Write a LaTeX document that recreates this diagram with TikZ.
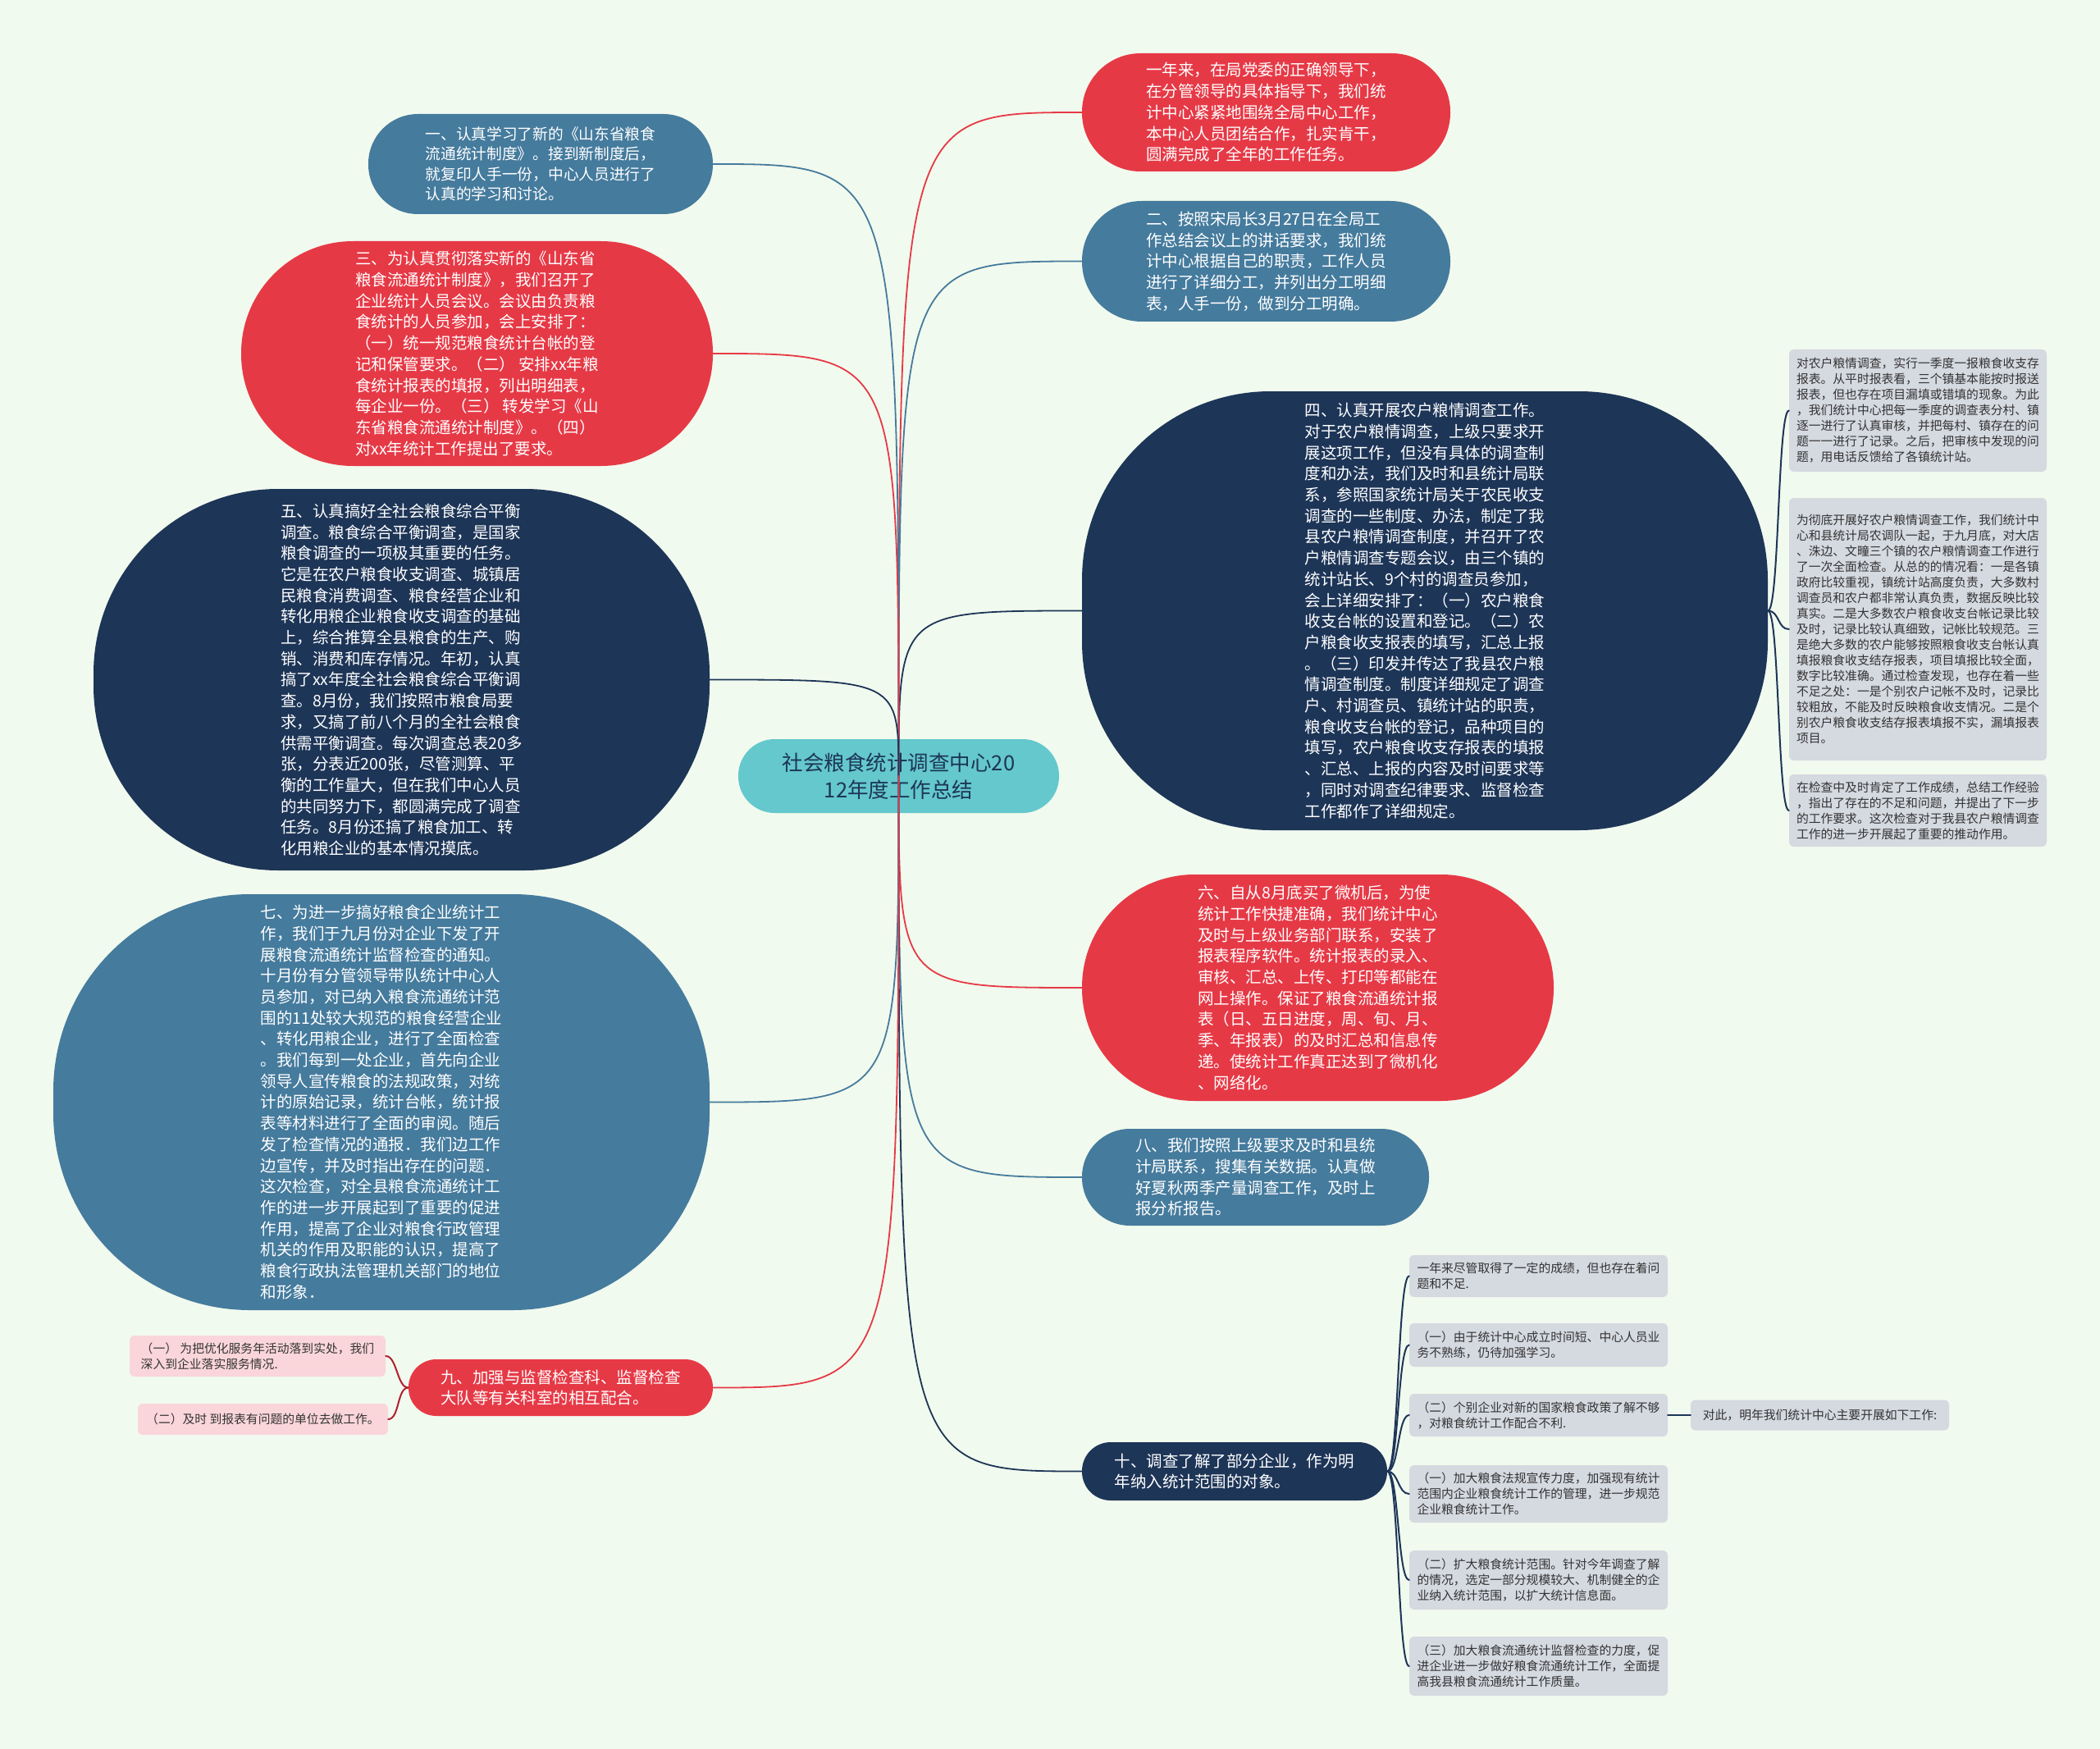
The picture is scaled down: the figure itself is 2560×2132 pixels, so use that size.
\documentclass[tikz,border=0pt]{standalone}
\usepackage{fontspec}
\setmainfont{Noto Sans CJK SC}
\usepackage{tikz}
\definecolor{bgc}{HTML}{F1FAEE}
\definecolor{redc}{HTML}{E63946}
\definecolor{bluec}{HTML}{457B9D}
\definecolor{navyc}{HTML}{1D3557}
\definecolor{rootc}{HTML}{64C8CD}
\definecolor{leafc}{HTML}{D5D9E0}
\definecolor{pinkc}{HTML}{FAD6DB}
\definecolor{leaftext}{HTML}{333333}
\definecolor{bracketred}{HTML}{B0202E}

\begin{document}
\begin{tikzpicture}[x=1pt,y=-1pt,line cap=round,
  topic/.style={rectangle,inner sep=0pt,text=white,align=left,font=\fontsize{19.5pt}{25.7pt}\selectfont},
  leaf/.style={rectangle,rounded corners=6pt,inner sep=0pt,fill=leafc,text=leaftext,align=left,font=\fontsize{14.8pt}{19pt}\selectfont},
  pinkleaf/.style={leaf,fill=pinkc},
  link/.style={line width=1.8pt},
  bracket/.style={line width=2pt}]
\useasboundingbox (0,0) rectangle (2560,2132);
\fill[bgc] (0,0) rectangle (2560,2132);

\node[rectangle,fill=rootc,text=navyc,align=center,minimum width=391pt,minimum height=90pt,rounded corners=44.5pt,font=\fontsize{25.5pt}{33pt}\selectfont] (root) at (1095.5,946) {社会粮食统计调查中心20\\12年度工作总结};

\node[topic,fill=redc,minimum width=449pt,minimum height=144pt,rounded corners=71.5pt] (n0) at (1543.5,137) {一年来，在局党委的正确领导下，\\在分管领导的具体指导下，我们统\\计中心紧紧地围绕全局中心工作，\\本中心人员团结合作，扎实肯干，\\圆满完成了全年的工作任务。};
\node[topic,fill=bluec,minimum width=449pt,minimum height=147pt,rounded corners=73pt] (n2) at (1543.5,318.5) {二、按照宋局长3月27日在全局工\\作总结会议上的讲话要求，我们统\\计中心根据自己的职责，工作人员\\进行了详细分工，并列出分工明细\\表，人手一份，做到分工明确。};
\node[topic,fill=navyc,minimum width=836pt,minimum height=535pt,rounded corners=230pt] (n4) at (1737,744.5) {四、认真开展农户粮情调查工作。\\对于农户粮情调查，上级只要求开\\展这项工作，但没有具体的调查制\\度和办法，我们及时和县统计局联\\系，参照国家统计局关于农民收支\\调查的一些制度、办法，制定了我\\县农户粮情调查制度，并召开了农\\户粮情调查专题会议，由三个镇的\\统计站长、9个村的调查员参加，\\会上详细安排了：（一）农户粮食\\收支台帐的设置和登记。（二）农\\户粮食收支报表的填写，汇总上报\\。（三）印发并传达了我县农户粮\\情调查制度。制度详细规定了调查\\户、村调查员、镇统计站的职责，\\粮食收支台帐的登记，品种项目的\\填写，农户粮食收支存报表的填报\\、汇总、上报的内容及时间要求等\\，同时对调查纪律要求、监督检查\\工作都作了详细规定。};
\node[topic,fill=redc,minimum width=575pt,minimum height=276pt,rounded corners=137.5pt] (n6) at (1606.5,1204) {六、自从8月底买了微机后，为使\\统计工作快捷准确，我们统计中心\\及时与上级业务部门联系，安装了\\报表程序软件。统计报表的录入、\\审核、汇总、上传、打印等都能在\\网上操作。保证了粮食流通统计报\\表（日、五日进度，周、旬、月、\\季、年报表）的及时汇总和信息传\\递。使统计工作真正达到了微机化\\、网络化。};
\node[topic,fill=bluec,minimum width=423pt,minimum height=118pt,rounded corners=58.5pt] (n8) at (1530.5,1435) {八、我们按照上级要求及时和县统\\计局联系，搜集有关数据。认真做\\好夏秋两季产量调查工作，及时上\\报分析报告。};
\node[topic,fill=navyc,minimum width=372pt,minimum height=71pt,rounded corners=35pt] (n10) at (1505,1793.5) {十、调查了解了部分企业，作为明\\年纳入统计范围的对象。};

\node[topic,fill=bluec,minimum width=420pt,minimum height=122pt,rounded corners=60.5pt,font=\fontsize{18.7pt}{24.4pt}\selectfont] (n1) at (659,200) {一、认真学习了新的《山东省粮食\\流通统计制度》。接到新制度后，\\就复印人手一份，中心人员进行了\\认真的学习和讨论。};
\node[topic,fill=redc,minimum width=575pt,minimum height=274pt,rounded corners=136.5pt] (n3) at (581.5,431) {三、为认真贯彻落实新的《山东省\\粮食流通统计制度》，我们召开了\\企业统计人员会议。会议由负责粮\\食统计的人员参加，会上安排了：\\（一）统一规范粮食统计台帐的登\\记和保管要求。（二） 安排xx年粮\\食统计报表的填报，列出明细表，\\每企业一份。（三） 转发学习《山\\东省粮食流通统计制度》。（四）\\对xx年统计工作提出了要求。};
\node[topic,fill=navyc,minimum width=751pt,minimum height=465pt,rounded corners=225pt] (n5) at (489.5,828.5) {五、认真搞好全社会粮食综合平衡\\调查。粮食综合平衡调查，是国家\\粮食调查的一项极其重要的任务。\\它是在农户粮食收支调查、城镇居\\民粮食消费调查、粮食经营企业和\\转化用粮企业粮食收支调查的基础\\上，综合推算全县粮食的生产、购\\销、消费和库存情况。年初，认真\\搞了xx年度全社会粮食综合平衡调\\查。8月份，我们按照市粮食局要\\求，又搞了前八个月的全社会粮食\\供需平衡调查。每次调查总表20多\\张，分表近200张，尽管测算、平\\衡的工作量大，但在我们中心人员\\的共同努力下，都圆满完成了调查\\任务。8月份还搞了粮食加工、转\\化用粮企业的基本情况摸底。};
\node[topic,fill=bluec,minimum width=800pt,minimum height=507pt,rounded corners=240pt] (n7) at (465,1343.5) {七、为进一步搞好粮食企业统计工\\作，我们于九月份对企业下发了开\\展粮食流通统计监督检查的通知。\\十月份有分管领导带队统计中心人\\员参加，对已纳入粮食流通统计范\\围的11处较大规范的粮食经营企业\\、转化用粮企业，进行了全面检查\\。我们每到一处企业，首先向企业\\领导人宣传粮食的法规政策，对统\\计的原始记录，统计台帐，统计报\\表等材料进行了全面的审阅。随后\\发了检查情况的通报．我们边工作\\边宣传，并及时指出存在的问题．\\这次检查，对全县粮食流通统计工\\作的进一步开展起到了重要的促进\\作用，提高了企业对粮食行政管理\\机关的作用及职能的认识，提高了\\粮食行政执法管理机关部门的地位\\和形象．};
\node[topic,fill=redc,minimum width=371pt,minimum height=69pt,rounded corners=34pt] (n9) at (683.5,1691.5) {九、加强与监督检查科、监督检查\\大队等有关科室的相互配合。};

\node[leaf,minimum width=314pt,minimum height=149pt] (n4a) at (2338,500.5) {对农户粮情调查，实行一季度一报粮食收支存\\报表。从平时报表看，三个镇基本能按时报送\\报表，但也存在项目漏填或错填的现象。为此\\，我们统计中心把每一季度的调查表分村、镇\\逐一进行了认真审核，并把每村、镇存在的问\\题一一进行了记录。之后，把审核中发现的问\\题，用电话反馈给了各镇统计站。};
\node[leaf,minimum width=314pt,minimum height=320pt] (n4b) at (2338,767) {为彻底开展好农户粮情调查工作，我们统计中\\心和县统计局农调队一起，于九月底，对大店\\、洙边、文疃三个镇的农户粮情调查工作进行\\了一次全面检查。从总的的情况看：一是各镇\\政府比较重视，镇统计站高度负责，大多数村\\调查员和农户都非常认真负责，数据反映比较\\真实。二是大多数农户粮食收支台帐记录比较\\及时，记录比较认真细致，记帐比较规范。三\\是绝大多数的农户能够按照粮食收支台帐认真\\填报粮食收支结存报表，项目填报比较全面，\\数字比较准确。通过检查发现，也存在着一些\\不足之处：一是个别农户记帐不及时，记录比\\较粗放，不能及时反映粮食收支情况。二是个\\别农户粮食收支结存报表填报不实，漏填报表\\项目。};
\node[leaf,minimum width=314pt,minimum height=88pt] (n4c) at (2338,988) {在检查中及时肯定了工作成绩，总结工作经验\\，指出了存在的不足和问题，并提出了下一步\\的工作要求。这次检查对于我县农户粮情调查\\工作的进一步开展起了重要的推动作用。};

\node[leaf,minimum width=315pt,minimum height=51pt] (n10a) at (1875.5,1555.5) {一年来尽管取得了一定的成绩，但也存在着问\\题和不足.};
\node[leaf,minimum width=315pt,minimum height=53pt] (n10b) at (1875.5,1639.5) {（一）由于统计中心成立时间短、中心人员业\\务不熟练，仍待加强学习。};
\node[leaf,minimum width=315pt,minimum height=52pt] (n10c) at (1875.5,1725) {（二）个别企业对新的国家粮食政策了解不够\\，对粮食统计工作配合不利.};
\node[leaf,minimum width=315pt,minimum height=70pt] (n10d) at (1875.5,1821) {（一）加大粮食法规宣传力度，加强现有统计\\范围内企业粮食统计工作的管理，进一步规范\\企业粮食统计工作。};
\node[leaf,minimum width=315pt,minimum height=72pt] (n10e) at (1875.5,1926) {（二）扩大粮食统计范围。针对今年调查了解\\的情况，选定一部分规模较大、机制健全的企\\业纳入统计范围，以扩大统计信息面。};
\node[leaf,minimum width=315pt,minimum height=72pt] (n10f) at (1875.5,2031) {（三）加大粮食流通统计监督检查的力度，促\\进企业进一步做好粮食流通统计工作，全面提\\高我县粮食流通统计工作质量。};
\node[leaf,minimum width=315pt,minimum height=37pt] (n10g) at (2218.5,1725) {对此，明年我们统计中心主要开展如下工作:};

\node[pinkleaf,minimum width=312pt,minimum height=50pt] (n9a) at (314,1653) {（一） 为把优化服务年活动落到实处，我们\\深入到企业落实服务情况.};
\node[pinkleaf,minimum width=305pt,minimum height=38pt] (n9b) at (320.5,1730) {（二）及时 到报表有问题的单位去做工作。};

\draw[link,redc] (root.center) .. controls (root.center |- n0.west) .. (n0.west);
\draw[link,bluec] (root.center) .. controls (root.center |- n2.west) .. (n2.west);
\draw[link,navyc] (root.center) .. controls (root.center |- n4.west) .. (n4.west);
\draw[link,redc] (root.center) .. controls (root.center |- n6.west) .. (n6.west);
\draw[link,bluec] (root.center) .. controls (root.center |- n8.west) .. (n8.west);
\draw[link,navyc] (root.center) .. controls (root.center |- n10.west) .. (n10.west);
\draw[link,bluec] (root.center) .. controls (root.center |- n1.east) .. (n1.east);
\draw[link,redc] (root.center) .. controls (root.center |- n3.east) .. (n3.east);
\draw[link,navyc] (root.center) .. controls (root.center |- n5.east) .. (n5.east);
\draw[link,bluec] (root.center) .. controls (root.center |- n7.east) .. (n7.east);
\draw[link,redc] (root.center) .. controls (root.center |- n9.east) .. (n9.east);

\foreach \leafname in {n4a,n4b,n4c}
  \draw[bracket,navyc] (n4.east) .. controls +(14,0) and +(-14,0) .. (\leafname.west);
\foreach \leafname in {n10a,n10b,n10c,n10d,n10e,n10f}
  \draw[bracket,navyc] (n10.east) .. controls +(14,0) and +(-14,0) .. (\leafname.west);
\draw[bracket,navyc] (n10c.east) -- (n10g.west);
\foreach \leafname in {n9a,n9b}
  \draw[bracket,bracketred] (n9.west) .. controls +(-14,0) and +(14,0) .. (\leafname.east);
\end{tikzpicture}
\end{document}
